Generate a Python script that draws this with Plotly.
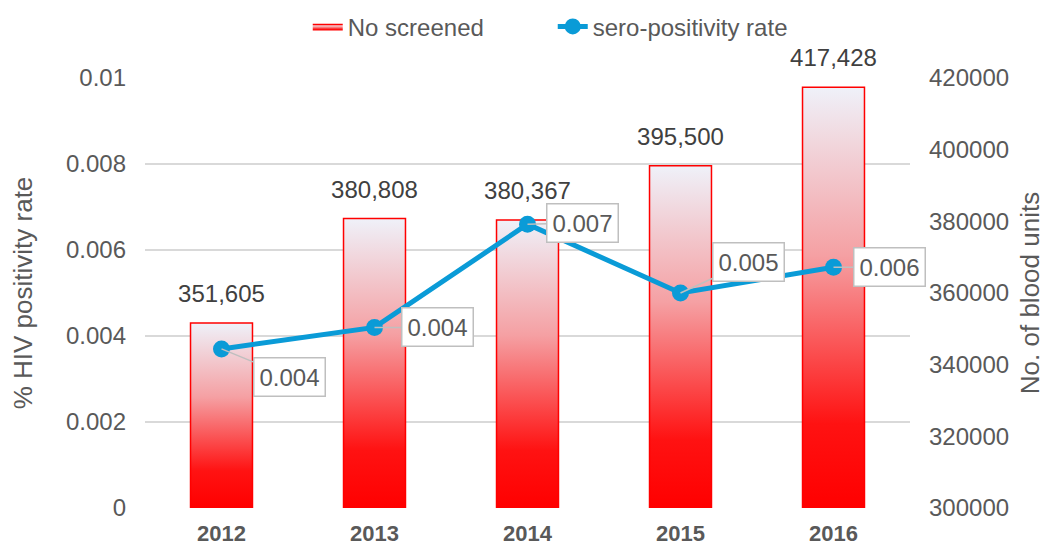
import plotly.graph_objects as go

years = [2012, 2013, 2014, 2015, 2016]
screened = [351605, 380808, 380367, 395500, 417428]
sero_rate = [0.0037, 0.0042, 0.0066, 0.0050, 0.0056]

rate_ticks = [0, 0.002, 0.004, 0.006, 0.008, 0.01]
rate_tick_text = ["0", "0.002", "0.004", "0.006", "0.008", "0.01"]
unit_ticks = [300000, 320000, 340000, 360000, 380000, 400000, 420000]

# callout offsets (pixels) for the rate labels
label_dx = [68, 63, 55, 68, 56]
label_dy = [28, 0, -1, -31, 0]

BAR_W = 0.405
BASE = 300000
GREY = "#595959"
BLUE = "#0a9bd7"
FONT = "Liberation Sans, Arial, sans-serif"

bar_scale = [[0, "#ff0000"], [0.2, "#ff1212"], [0.6, "#f5a0a3"], [1, "#eff1f9"]]

fig = go.Figure()

# gradient bars, one filled shape per year so each gets its own gradient
for i, (yr, v) in enumerate(zip(years, screened)):
    fig.add_trace(go.Scatter(
        x=[yr - BAR_W / 2, yr + BAR_W / 2, yr + BAR_W / 2, yr - BAR_W / 2, yr - BAR_W / 2],
        y=[BASE, BASE, v, v, BASE],
        mode="lines",
        fill="toself",
        fillgradient=dict(type="vertical", colorscale=bar_scale),
        line=dict(color="#ff0000", width=1.5),
        name="No screened",
        legendgroup="bars",
        showlegend=(i == 0),
        hoverinfo="skip",
    ))

# value labels above the bars (invisible markers push the text up a bit)
fig.add_trace(go.Scatter(
    x=years, y=screened,
    mode="markers+text",
    marker=dict(size=22, color="rgba(0,0,0,0)"),
    text=[f"{v:,}" for v in screened],
    textposition="top center",
    textfont=dict(size=24, color="#404040", family=FONT),
    showlegend=False,
    hoverinfo="skip",
    cliponaxis=False,
))

# rate line sits on the overlaying axis so it is drawn above the bars
fig.add_trace(go.Scatter(
    x=years, y=sero_rate, yaxis="y2",
    mode="lines+markers",
    name="sero-positivity rate",
    legendgroup="rate",
    line=dict(color=BLUE, width=5),
    marker=dict(color=BLUE, size=17),
    cliponaxis=False,
))

for yr, r, dx, dy in zip(years, sero_rate, label_dx, label_dy):
    fig.add_annotation(
        x=yr, y=r, xref="x", yref="y2",
        text=f"{r:.3f}",
        showarrow=True, arrowhead=0, arrowwidth=1.5, arrowcolor="#bfbfbf",
        ax=dx, ay=dy,
        bgcolor="white", bordercolor="#bfbfbf", borderwidth=1.5, borderpad=5,
        font=dict(size=24, color=GREY, family=FONT),
    )

fig.update_layout(
    width=1049, height=544,
    margin=dict(l=137, r=147, t=70, b=44, autoexpand=False),
    plot_bgcolor="white", paper_bgcolor="white",
    font=dict(family=FONT, size=24, color=GREY),
    legend=dict(orientation="h", x=0.533, xanchor="center", y=1.119, yanchor="middle",
                font=dict(size=24, color=GREY), entrywidth=200, entrywidthmode="pixels"),
    xaxis=dict(
        range=[2011.5, 2016.5],
        tickvals=years,
        ticktext=[f"<b>{y}</b>" for y in years],
        tickfont=dict(size=22, color=GREY),
        showgrid=False, zeroline=False, showline=False, ticks="",
        ticklabelstandoff=10, automargin=False,
    ),
    yaxis=dict(
        range=[BASE, 420000], tickvals=unit_ticks, tickformat="d",
        side="right",
        showgrid=False, zeroline=False, showline=False, ticks="",
        ticklabelstandoff=18, automargin=False,
        title=dict(text="No. of blood units", font=dict(size=26, color=GREY), standoff=12),
        tickfont=dict(size=24, color=GREY),
    ),
    yaxis2=dict(
        range=[0, 0.01], tickvals=rate_ticks, ticktext=rate_tick_text,
        overlaying="y", side="left",
        showgrid=True, gridcolor="#d9d9d9", gridwidth=1.5,
        zeroline=False, showline=False, ticks="",
        ticklabelstandoff=18, automargin=False,
        title=dict(text="% HIV positivity rate", font=dict(size=26, color=GREY), standoff=28),
        tickfont=dict(size=24, color=GREY),
    ),
)

fig.write_html("out.html")
